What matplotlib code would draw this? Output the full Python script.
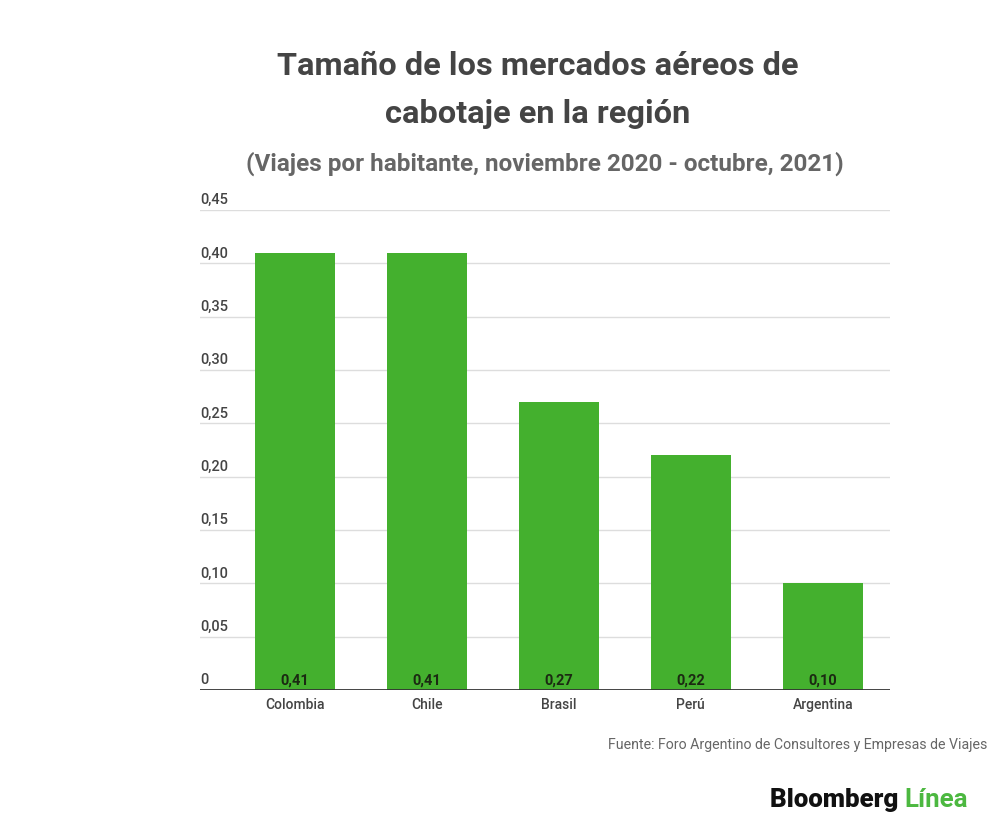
import numpy as np
import matplotlib.pyplot as plt

# data
countries = ["Colombia", "Chile", "Brasil", "Perú", "Argentina"]
trips = [0.41, 0.41, 0.27, 0.22, 0.10]
yticks = [0, 0.05, 0.10, 0.15, 0.20, 0.25, 0.30, 0.35, 0.40, 0.45]

plt.rcParams['font.family'] = ['Roboto', 'DejaVu Sans']

fig = plt.figure(figsize=(10, 8.31), dpi=100)
ax = fig.add_axes([0.2, 0.1697, 0.69, 0.5776])

x = np.arange(len(countries))
ax.bar(x, trips, width=0.606, color='#44b02e', zorder=3)
ax.set_xlim(-0.72, 4.51)
ax.set_ylim(0, 0.45)

# grid lines and y labels (sit above the line)
for t in yticks:
    if t > 0:
        ax.axhline(t, color='#dddddd', lw=1, zorder=1)
    lab = "0" if t == 0 else ("%.2f" % t).replace(".", ",")
    ax.text(-0.72, t + 0.0025, lab, ha='left', va='bottom', fontsize=10.5,
            color='#444444', fontweight='medium')
ax.axhline(0, color='#333333', lw=2, zorder=4)

# value labels at the foot of each bar
for xi, v in zip(x, trips):
    ax.text(xi, 0.0022, ("%.2f" % v).replace(".", ","), ha='center', va='bottom',
            fontsize=10.5, fontweight='bold', color='#1b2a12', zorder=5)

ax.set_xticks(x)
ax.set_xticklabels(countries, fontsize=10, color='#444444', fontweight='medium')
ax.tick_params(axis='x', length=0, pad=6)
ax.set_yticks([])
for s in ax.spines.values():
    s.set_visible(False)

fig.text(0.538, 0.920, "Tamaño de los mercados aéreos de", ha='center', va='center',
         fontsize=23.4, fontweight='bold', color='#444444')
fig.text(0.538, 0.863, "cabotaje en la región", ha='center', va='center',
         fontsize=23.4, fontweight='bold', color='#444444')
fig.text(0.545, 0.803, "(Viajes por habitante, noviembre 2020 - octubre, 2021)",
         ha='center', va='center', fontsize=17.5, fontweight='bold', color='#666666')

fig.text(0.987, 0.103, "Fuente: Foro Argentino de Consultores y Empresas de Viajes",
         ha='right', va='center', fontsize=10.2, color='#666666')

t1 = fig.text(0.77, 0.037, "Bloomberg ", ha='left', va='center', fontsize=18.6,
              fontweight='heavy', color='#111111')
fig.canvas.draw()
bb = t1.get_window_extent()
fig.text(bb.x1 / fig.bbox.width, 0.037, "Línea", ha='left', va='center', fontsize=18.6,
         fontweight='bold', color='#4cb840')

fig.savefig("out.png", dpi=100, facecolor='white')
